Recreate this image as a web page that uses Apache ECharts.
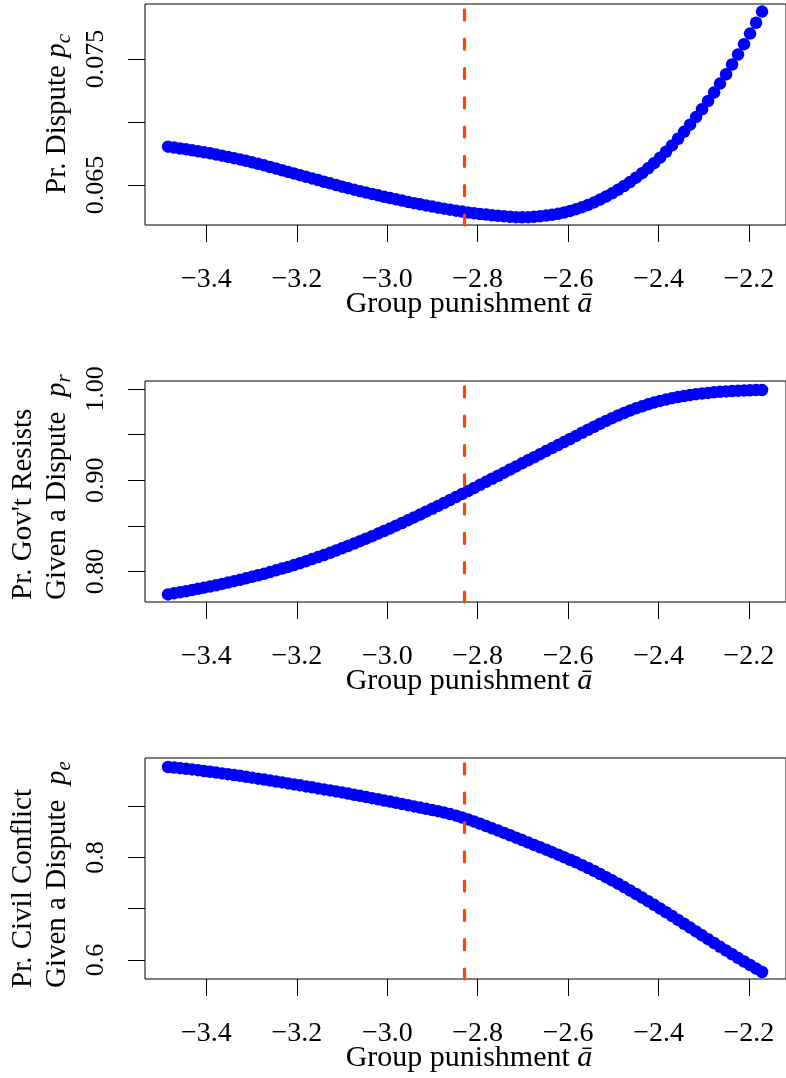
<!DOCTYPE html>
<html><head><meta charset="utf-8">
<script src="https://cdn.jsdelivr.net/npm/echarts@6/dist/echarts.min.js"></script>
<style>html,body{margin:0;padding:0;background:#fff}#c{width:786px;height:1078px}</style>
</head><body><div id="c"></div>
<script>
// Group punishment values (x)
const groupPunishment = [
-3.4850,-3.4717,-3.4585,-3.4452,-3.4319,-3.4186,-3.4054,-3.3921,-3.3788,-3.3655,
-3.3523,-3.3390,-3.3257,-3.3125,-3.2992,-3.2859,-3.2726,-3.2594,-3.2461,-3.2328,
-3.2195,-3.2063,-3.1930,-3.1797,-3.1664,-3.1532,-3.1399,-3.1266,-3.1134,-3.1001,
-3.0868,-3.0735,-3.0603,-3.0470,-3.0337,-3.0204,-3.0072,-2.9939,-2.9806,-2.9674,
-2.9541,-2.9408,-2.9275,-2.9143,-2.9010,-2.8877,-2.8744,-2.8612,-2.8479,-2.8346,
-2.8213,-2.8081,-2.7948,-2.7815,-2.7683,-2.7550,-2.7417,-2.7284,-2.7152,-2.7019,
-2.6886,-2.6753,-2.6621,-2.6488,-2.6355,-2.6222,-2.6090,-2.5957,-2.5824,-2.5692,
-2.5559,-2.5426,-2.5293,-2.5161,-2.5028,-2.4895,-2.4762,-2.4630,-2.4497,-2.4364,
-2.4231,-2.4099,-2.3966,-2.3833,-2.3701,-2.3568,-2.3435,-2.3302,-2.3170,-2.3037,
-2.2904,-2.2771,-2.2639,-2.2506,-2.2373,-2.2241,-2.2108,-2.1975,-2.1842,-2.1710];

// Pr. Dispute p_c
const probDispute = [
0.06804,0.06797,0.06790,0.06783,0.06775,0.06767,0.06759,0.06751,0.06742,0.06733,
0.06723,0.06713,0.06703,0.06692,0.06680,0.06668,0.06656,0.06643,0.06630,0.06617,
0.06604,0.06591,0.06578,0.06565,0.06552,0.06539,0.06526,0.06513,0.06500,0.06487,
0.06475,0.06463,0.06451,0.06440,0.06429,0.06418,0.06407,0.06396,0.06386,0.06376,
0.06366,0.06356,0.06347,0.06338,0.06329,0.06320,0.06312,0.06304,0.06296,0.06289,
0.06282,0.06276,0.06270,0.06265,0.06260,0.06256,0.06252,0.06248,0.06245,0.06244,
0.06245,0.06248,0.06252,0.06257,0.06264,0.06272,0.06282,0.06294,0.06308,0.06324,
0.06342,0.06362,0.06384,0.06408,0.06434,0.06462,0.06492,0.06524,0.06558,0.06594,
0.06632,0.06673,0.06717,0.06764,0.06814,0.06867,0.06922,0.06979,0.07039,0.07101,
0.07166,0.07234,0.07305,0.07379,0.07456,0.07536,0.07618,0.07702,0.07788,0.07876];

// Pr. Gov't Resists given a dispute p_r
const probResist = [
0.7748,0.7760,0.7771,0.7783,0.7796,0.7809,0.7822,0.7835,0.7849,0.7863,
0.7878,0.7893,0.7908,0.7924,0.7941,0.7958,0.7975,0.7993,0.8012,0.8031,
0.8050,0.8070,0.8091,0.8113,0.8135,0.8157,0.8180,0.8204,0.8229,0.8254,
0.8279,0.8305,0.8332,0.8359,0.8387,0.8415,0.8443,0.8472,0.8502,0.8531,
0.8562,0.8592,0.8623,0.8655,0.8686,0.8718,0.8750,0.8783,0.8816,0.8849,
0.8882,0.8915,0.8949,0.8982,0.9016,0.9049,0.9083,0.9117,0.9151,0.9185,
0.9219,0.9252,0.9286,0.9319,0.9352,0.9385,0.9418,0.9452,0.9486,0.9520,
0.9553,0.9586,0.9619,0.9650,0.9680,0.9709,0.9737,0.9763,0.9788,0.9810,
0.9832,0.9851,0.9869,0.9885,0.9899,0.9912,0.9923,0.9934,0.9943,0.9951,
0.9957,0.9963,0.9969,0.9973,0.9977,0.9980,0.9983,0.9986,0.9988,0.9989];

// Pr. Civil Conflict given a dispute p_e
const probConflict = [
0.9762,0.9750,0.9739,0.9727,0.9715,0.9700,0.9684,0.9669,0.9653,0.9637,
0.9622,0.9606,0.9591,0.9572,0.9554,0.9535,0.9517,0.9498,0.9480,0.9461,
0.9442,0.9423,0.9404,0.9384,0.9365,0.9345,0.9326,0.9306,0.9287,0.9267,
0.9245,0.9222,0.9200,0.9177,0.9155,0.9133,0.9110,0.9088,0.9064,0.9041,
0.9018,0.8994,0.8971,0.8947,0.8924,0.8901,0.8874,0.8845,0.8813,0.8778,
0.8740,0.8699,0.8656,0.8612,0.8567,0.8522,0.8477,0.8431,0.8384,0.8337,
0.8290,0.8244,0.8197,0.8150,0.8102,0.8054,0.8004,0.7954,0.7903,0.7849,
0.7793,0.7736,0.7676,0.7615,0.7553,0.7488,0.7422,0.7355,0.7287,0.7217,
0.7147,0.7076,0.7004,0.6931,0.6857,0.6782,0.6707,0.6632,0.6557,0.6481,
0.6406,0.6331,0.6257,0.6184,0.6112,0.6041,0.5971,0.5902,0.5833,0.5766];

const xTicks = [-3.4,-3.2,-3.0,-2.8,-2.6,-2.4,-2.2];
const yTicks1 = [0.065,0.070,0.075];
const yLabels1 = [0.065,0.075];
const yTicks2 = [0.80,0.85,0.90,0.95,1.00];
const yLabels2 = [0.80,0.90,1.00];
const yTicks3 = [0.6,0.7,0.8,0.9];
const yLabels3 = [0.6,0.8];
const cutoff = -2.825;

const FONT = 'Liberation Serif';
const chart = echarts.init(document.getElementById('c'), null, {renderer:'canvas'});

const panels = [
  {top:4,   ymin:0.061825, ymax:0.079365, ticks:yTicks1, labels:yLabels1, dec:3, data:probDispute},
  {top:381, ymin:0.76650,  ymax:1.00876,  ticks:yTicks2, labels:yLabels2, dec:2, data:probResist},
  {top:758, ymin:0.56296,  ymax:0.99376,  ticks:yTicks3, labels:yLabels3, dec:1, data:probConflict}
];
const minus = s => s.replace('-', '\u2212');

const grid = [], xAxis = [], yAxis = [], series = [];
panels.forEach((p, k) => {
  grid.push({left:145, width:644, top:p.top, height:221, show:true,
    borderColor:'#000', borderWidth:1, backgroundColor:'transparent'});
  xAxis.push({type:'value', gridIndex:k, min:-3.536, max:-2.118,
    axisLine:{show:false}, splitLine:{show:false},
    axisTick:{show:true, inside:false, length:17, customValues:xTicks, lineStyle:{color:'#000', width:1}},
    axisLabel:{show:true, customValues:xTicks, margin:41, fontFamily:FONT, fontSize:28, color:'#000',
      formatter:v => minus(v.toFixed(1))}});
  yAxis.push({type:'value', gridIndex:k, min:p.ymin, max:p.ymax,
    axisLine:{show:false}, splitLine:{show:false},
    axisTick:{show:true, inside:false, length:17, customValues:p.ticks, lineStyle:{color:'#000', width:1}},
    axisLabel:{show:true, customValues:p.labels, rotate:90, margin:36, fontFamily:FONT, fontSize:26, color:'#000',
      formatter:v => v.toFixed(p.dec)}});
  series.push({type:'scatter', xAxisIndex:k, yAxisIndex:k,
    data: groupPunishment.map((x, i) => [x, p.data[i]]),
    symbol:'circle', symbolSize:12.5, itemStyle:{color:'#0000FF', opacity:1},
    emphasis:{disabled:true}, silent:true,
    markLine:{silent:true, symbol:['none','none'], label:{show:false}, animation:false,
      lineStyle:{color:'#FF4500', width:3.2, type:[10,19.3], cap:'round'},
      data:[{xAxis:cutoff}]}});
});

function makeRich(fs) {
  return {
    n:{fontFamily:FONT, fontSize:fs, fill:'#000', lineHeight:fs + 6},
    i:{fontFamily:FONT, fontSize:fs, fontStyle:'italic', fill:'#000', lineHeight:fs + 6},
    s:{fontFamily:FONT, fontSize:Math.round(fs * 0.72), fontStyle:'italic', fill:'#000',
       lineHeight:Math.round(fs * 0.72), verticalAlign:'bottom'}
  };
}
const R = Math.PI / 2;
function label(x, y, rot, align, fs, text) {
  return {type:'text', x:x, y:y, rotation:rot, silent:true,
    style:{text:text, rich:makeRich(fs), align:align, verticalAlign:'middle', fontFamily:FONT, fontSize:fs, fill:'#000'}};
}
const graphic = [
  label(57, 114, R, 'center', 29, '{n|Pr. Dispute }{i|p}{s|c}'),
  label(23, 600, R, 'left', 29, "{n|Pr. Gov't Resists}"),
  label(57, 600, R, 'left', 29, '{n|Given a Dispute  }{i|p}{s|r}'),
  label(23, 988, R, 'left', 29, '{n|Pr. Civil Conflict}'),
  label(57, 988, R, 'left', 29, '{n|Given a Dispute  }{i|p}{s|e}'),
  label(469, 304.5, 0, 'center', 30, '{n|Group punishment }{i|\u0101}'),
  label(469, 681.5, 0, 'center', 30, '{n|Group punishment }{i|\u0101}'),
  label(469, 1058.5, 0, 'center', 30, '{n|Group punishment }{i|\u0101}')
];

chart.setOption({animation:false, backgroundColor:'#fff', grid, xAxis, yAxis, series, graphic});
</script></body></html>
